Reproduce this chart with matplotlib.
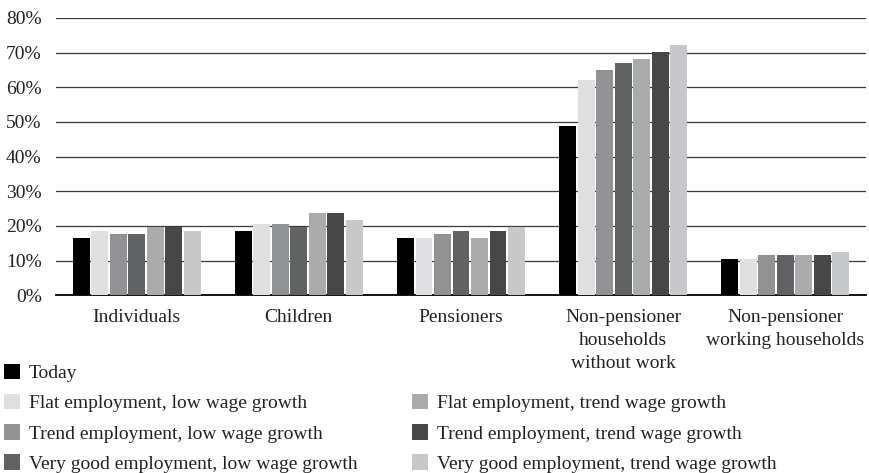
import numpy as np
import matplotlib.pyplot as plt

categories = ['Individuals', 'Children', 'Pensioners',
              'Non-pensioner\nhouseholds\nwithout work',
              'Non-pensioner\nworking households']

series_names = ['Today',
                'Flat employment, low wage growth',
                'Trend employment, low wage growth',
                'Very good employment, low wage growth',
                'Flat employment, trend wage growth',
                'Trend employment, trend wage growth',
                'Very good employment, trend wage growth']

today = [16.5, 18.5, 16.5, 48.8, 10.4]
flat_low = [18.5, 20.6, 16.5, 62.1, 10.4]
trend_low = [17.6, 20.6, 17.6, 65.0, 11.6]
vgood_low = [17.6, 19.8, 18.5, 67.1, 11.6]
flat_trend = [19.7, 23.7, 16.5, 68.2, 11.6]
trend_trend = [19.7, 23.7, 18.5, 70.1, 11.6]
vgood_trend = [18.5, 21.7, 19.7, 72.3, 12.4]

values = [today, flat_low, trend_low, vgood_low, flat_trend, trend_trend, vgood_trend]
colors = ['#000000', '#e0e0e2', '#919294', '#616263', '#aaabad', '#474748', '#c7c8ca']

yticks = [0, 10, 20, 30, 40, 50, 60, 70, 80]

plt.rcParams['font.family'] = ['Liberation Serif', 'DejaVu Serif']

fig = plt.figure(figsize=(8.69, 4.73), dpi=100)
ax = fig.add_axes([0.064, 0.376, 0.933, 0.586])

x = np.arange(len(categories))
slot = 0.114
width = 0.104
bars = []
for i, (vals, col) in enumerate(zip(values, colors)):
    b = ax.bar(x + (i - 3) * slot, vals, width, color=col, zorder=3, label=series_names[i])
    bars.append(b)

ax.set_xlim(-0.5, len(categories) - 0.5)
ax.set_ylim(0, 80)
ax.set_yticks(yticks)
ax.set_yticklabels([f'{t}%' for t in yticks])
ax.yaxis.grid(True, color='#3a3a3a', linewidth=0.9, zorder=0)
ax.set_axisbelow(True)
ax.set_xticks(x)
ax.set_xticklabels(categories, linespacing=1.45)
for s in ['top', 'right', 'left']:
    ax.spines[s].set_visible(False)
ax.spines['bottom'].set_color('black')
ax.spines['bottom'].set_linewidth(1.3)
ax.tick_params(axis='both', length=0, labelsize=14, colors='#222222')
ax.tick_params(axis='x', pad=10)
ax.tick_params(axis='y', pad=10)

# legend: Today alone in first column head, rest in two columns
blank = plt.Rectangle((0, 0), 1, 1, fc='none', ec='none')
handles = [bars[0], bars[1], bars[2], bars[3], blank, bars[4], bars[5], bars[6]]
labels = [series_names[0], series_names[1], series_names[2], series_names[3], '',
          series_names[4], series_names[5], series_names[6]]
fig.legend(handles, labels, ncol=2, loc='upper left', bbox_to_anchor=(-0.016, 0.268),
           frameon=False, fontsize=14, handlelength=0.85, handleheight=0.85,
           handletextpad=0.45, labelspacing=0.6, columnspacing=2.8,
           labelcolor='#222222')

fig.savefig('out.png', dpi=100)
